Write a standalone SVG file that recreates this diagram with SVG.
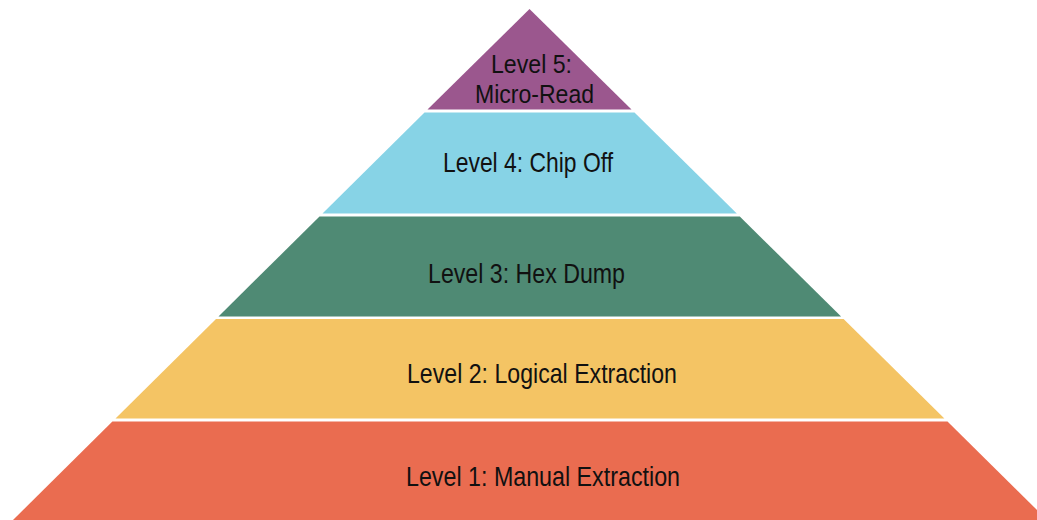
<svg xmlns="http://www.w3.org/2000/svg" width="1037" height="520" viewBox="0 0 1037 520">
  <style>
    .lbl { font-family: "Liberation Sans", Arial, sans-serif; font-size: 27.5px; fill: #111111; }
    .sm { font-size: 26px; }
  </style>
  <rect width="1037" height="520" fill="#ffffff"/>
  <g id="level5">
    <polygon points="529.5,9 631.5,109.5 427.5,109.5" fill="#9B578E"/>
    <text class="lbl sm" x="491" y="73" textLength="81" lengthAdjust="spacingAndGlyphs">Level 5:</text>
    <text class="lbl sm" x="475" y="102.5" textLength="119" lengthAdjust="spacingAndGlyphs">Micro-Read</text>
  </g>
  <g id="level4">
    <polygon points="424.5,112.5 634.5,112.5 736.8,213.5 322.5,213.5" fill="#87D3E6"/>
    <text class="lbl" x="443" y="172" textLength="170" lengthAdjust="spacingAndGlyphs">Level 4: Chip Off</text>
  </g>
  <g id="level3">
    <polygon points="319.5,216.5 739.8,216.5 841.1,316.5 218.5,316.5" fill="#4F8A74"/>
    <text class="lbl" x="428" y="283" textLength="197" lengthAdjust="spacingAndGlyphs">Level 3: Hex Dump</text>
  </g>
  <g id="level2">
    <polygon points="216,319 843.6,319 944.4,418.5 115.5,418.5" fill="#F4C464"/>
    <text class="lbl" x="407" y="383" textLength="270" lengthAdjust="spacingAndGlyphs">Level 2: Logical Extraction</text>
  </g>
  <g id="level1">
    <polygon points="112.4,421.5 947.5,421.5 1047.2,520 13,520" fill="#EA6C50"/>
    <text class="lbl" x="406" y="486" textLength="274" lengthAdjust="spacingAndGlyphs">Level 1: Manual Extraction</text>
  </g>
  <g id="connectors"></g>
</svg>
